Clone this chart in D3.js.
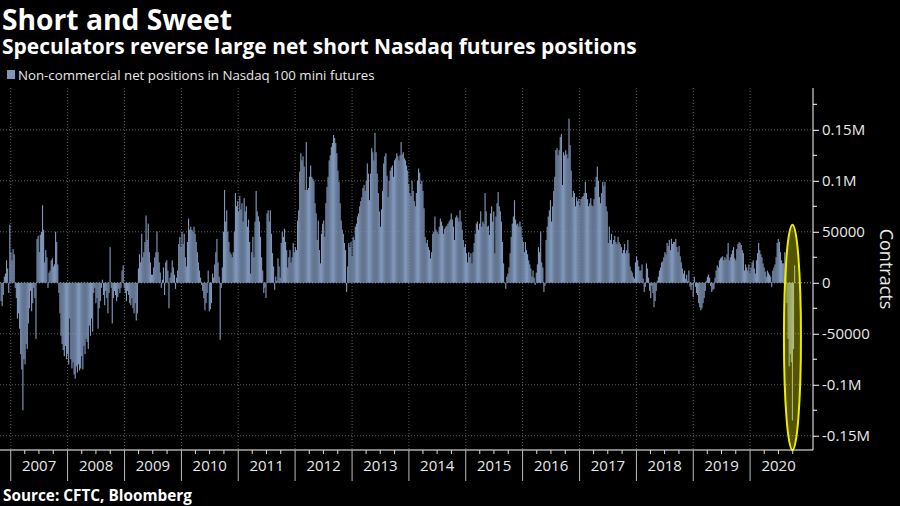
<!DOCTYPE html>
<html><head><meta charset="utf-8">
<script src="https://cdn.jsdelivr.net/npm/d3@7"></script>
<style>
html,body{margin:0;padding:0;background:#000;}
svg{display:block;}
</style></head><body>
<svg id="chart" width="900" height="506"></svg>
<script>
// ---------- text ----------
const title = "Short and Sweet";
const subtitle = "Speculators reverse large net short Nasdaq futures positions";
const legendLabel = "Non-commercial net positions in Nasdaq 100 mini futures";
const sourceText = "Source: CFTC, Bloomberg";
const axisTitle = "Contracts";

// ---------- data: weekly net positions, thousands of contracts ----------
const firstWeek = "2006-10-31";
const net2006 = [-18,-23,-12,6,9,22,14,-10,57];
const net2007 = [30,22,33,28,-5,-15,-35,-30,-45,-70,-85,-125,-75,-80,-60,-65,-40,-25,-8,-28,-20,-5,-15,-55,43,46,30,47,50,76,52,20,32,25,-5,10,12,22,24,16,18,50,40,18,-10,-30,-52,-60,-66,-72,-62,-75];
const net2008 = [-70,-80,-35,-75,-84,-78,-90,-94,-82,-88,-80,-86,-84,-72,-85,-62,-70,-55,-58,-65,-42,-52,-35,-48,-10,-5,-20,-15,-45,-25,-18,-5,3,-12,-22,-8,-15,-30,-10,35,-5,-40,-15,-8,-12,-18,-14,-6,-10,-5,12,17];
const net2009 = [-5,-10,-18,-8,-12,-20,-22,-15,-25,-30,-20,-37,-30,14,28,20,48,25,30,40,66,42,58,30,20,8,8,15,25,30,50,30,20,10,-5,3,15,-12,20,22,12,-25,5,10,22,15,8,-6,5,12,38,45,35];
const net2010 = [50,38,48,25,16,40,63,52,55,52,50,55,48,40,30,20,12,5,-2,-8,-15,-27,-20,-10,12,-28,-26,-20,9,5,18,30,43,20,6,-56,-5,15,50,91,60,71,50,40,30,28,25,30,50,88,75,80,70];
const net2011 = [85,72,78,60,83,70,75,55,62,40,9,30,45,25,60,90,70,65,60,45,25,12,-10,-5,-15,68,71,60,71,48,29,16,-7,6,2,24,16,5,39,50,45,53,40,32,15,25,32,20,25,39,30,35];
const net2012 = [32,61,71,109,127,120,124,114,91,138,91,93,104,115,104,102,100,78,68,42,61,32,19,48,58,61,45,78,94,104,120,125,133,137,145,142,137,127,110,99,78,61,52,48,39,32,-9,16,39,35,40,26,45];
const net2013 = [42,55,58,65,68,75,80,84,93,96,90,100,117,107,81,107,132,128,120,147,128,107,88,70,55,72,90,117,124,127,105,84,100,110,113,115,104,120,122,127,124,120,125,138,126,128,122,120,115,110,97,88,85];
const net2014 = [100,90,80,75,88,100,112,108,97,100,90,73,45,39,42,35,32,24,30,48,50,65,52,50,48,55,63,60,56,48,53,55,56,58,60,62,68,62,55,42,64,66,64,60,71,60,52,42,35,38,29,20,30];
const net2015 = [25,29,19,30,39,48,58,60,52,58,70,55,60,58,88,70,55,56,47,68,75,60,70,29,65,78,89,75,70,60,40,19,0,-6,6,9,15,29,45,58,65,81,62,57,58,55,60,55,45,40,30,40];
const net2016 = [32,28,22,18,14,6,12,5,-2,10,18,35,30,50,20,15,-9,-3,42,55,65,71,81,60,75,90,104,130,132,125,130,143,146,96,128,125,130,126,122,161,135,110,84,90,88,75,84,80,82,75,82,84,85];
const net2017 = [88,99,88,82,75,78,83,76,75,82,94,104,114,100,84,78,88,99,95,99,75,70,39,55,42,48,38,42,46,40,38,45,40,38,35,29,32,38,29,32,42,29,16,12,10,6,4,20,26,22,16,12];
const net2018 = [12,18,4,-9,-4,19,14,5,-8,-15,-3,-10,-24,-18,-8,2,6,12,15,20,21,25,30,28,39,36,42,32,43,38,40,40,43,35,30,36,26,20,14,9,12,4,8,2,12,-4,-7,-2,-14,6,-4,-10,-12];
const net2019 = [-20,-24,-27,-25,-20,-15,-8,2,6,8,5,-3,-9,-7,-6,5,12,17,15,22,24,25,26,22,25,23,28,39,22,25,28,32,35,24,22,33,38,40,39,37,32,29,12,18,15,12,18,10,15,20,22,14];
const net2020 = [9,22,29,39,32,28,25,19,15,11,6,12,10,8,6,-4,12,15,18,25,39,43,40,30,22,19,19,30,18,-20,-55,-82,-70,-78,-135,-65,17];

const yearLabels = ["2007","2008","2009","2010","2011","2012","2013","2014","2015","2016","2017","2018","2019","2020"];
const yTickValues = [-150000,-100000,-50000,0,50000,100000,150000];
const yTickLabels = ["-0.15M","-0.1M","-50000","0","50000","0.1M","0.15M"];
const yMinorValues = [-125000,-75000,-25000,25000,75000,125000,175000];
// highlighted region (annotation ellipse), contracts
const highlightTop = 57000, highlightBottom = -164000;

// ---------- build ----------
const parse = d3.timeParse("%Y-%m-%d");
const start = parse(firstWeek);
const values = [].concat(net2006,net2007,net2008,net2009,net2010,net2011,net2012,net2013,net2014,net2015,net2016,net2017,net2018,net2019,net2020);
const data = values.map((v,i)=>({date: d3.timeDay.offset(start, 7*i), value: v*1000}));

const svg = d3.select("#chart");
const W = 900, H = 506;
const P = {left:0, right:813, top:88, bottom:450};
const barColor = "#7f96b9";
const textColor = "#e8e8e8";
const font = "'Open Sans', 'DejaVu Sans', sans-serif";

svg.append("rect").attr("width",W).attr("height",H).attr("fill","#000");

const x = d3.scaleTime().domain([new Date(2006,9,24), new Date(2021,1,8)]).range([P.left, P.right]);
const y = d3.scaleLinear().domain([-164000, 191000]).range([P.bottom, P.top]);

function fit(sel, target){
  const n = sel.node(); const fs = parseFloat(sel.attr("font-size"));
  const w = n.getComputedTextLength(); sel.attr("font-size", fs*target/w);
}

// titles
fit(svg.append("text").attr("x",2).attr("y",30).attr("fill","#fff").attr("font-family",font)
  .attr("font-weight",700).attr("font-size",28).text(title), 230);
fit(svg.append("text").attr("x",2).attr("y",53.5).attr("fill","#fff").attr("font-family",font)
  .attr("font-weight",700).attr("font-size",19).text(subtitle), 635);
// legend
svg.append("rect").attr("x",7).attr("y",70).attr("width",8).attr("height",9).attr("fill",barColor);
fit(svg.append("text").attr("x",18).attr("y",79.5).attr("fill",textColor).attr("font-family",font)
  .attr("font-size",13).text(legendLabel), 357);

// grid
const grid = svg.append("g");
const yearStarts = yearLabels.map(s=>new Date(+s,0,1));
grid.selectAll("line.h").data(yTickValues.filter(v=>v!==0)).join("line")
  .attr("x1",P.left).attr("x2",P.right).attr("y1",d=>y(d)).attr("y2",d=>y(d))
  .attr("stroke","#5c5c5c").attr("stroke-dasharray","1,2");
grid.selectAll("line.v").data(yearStarts).join("line")
  .attr("x1",d=>x(d)).attr("x2",d=>x(d)).attr("y1",P.top).attr("y2",P.bottom)
  .attr("stroke","#5c5c5c").attr("stroke-dasharray","1,2");

// bars
const bw = 1.15;
svg.append("g").selectAll("rect").data(data).join("rect")
  .attr("x",d=>x(d.date)-bw/2).attr("width",bw)
  .attr("y",d=>y(Math.max(0,d.value))).attr("height",d=>Math.abs(y(d.value)-y(0)))
  .attr("fill",barColor);

// zero line on top
svg.append("line").attr("x1",P.left).attr("x2",P.right).attr("y1",y(0)).attr("y2",y(0))
  .attr("stroke","#9a9a9a").attr("stroke-dasharray","1,2");

// annotation ellipse around the latest plunge
const minD = data.reduce((a,b)=>b.value<a.value?b:a);
svg.append("ellipse").attr("cx",x(minD.date)).attr("cy",(y(highlightTop)+y(highlightBottom))/2)
  .attr("rx",8.5).attr("ry",(y(highlightBottom)-y(highlightTop))/2)
  .attr("fill","rgba(255,255,0,0.33)").attr("stroke","#eded00").attr("stroke-width",2);

// x axis
svg.append("line").attr("x1",P.left).attr("x2",P.right).attr("y1",P.bottom).attr("y2",P.bottom)
  .attr("stroke","#fff").attr("stroke-width",1);
const quarters = d3.timeMonth.every(3).range(new Date(2006,9,1), new Date(2021,0,2)).filter(d=>d.getMonth()!==0 && x(d)>=0);
svg.append("g").selectAll("line").data(quarters).join("line")
  .attr("x1",d=>x(d)).attr("x2",d=>x(d)).attr("y1",P.bottom).attr("y2",P.bottom+4).attr("stroke","#ddd");
svg.append("g").selectAll("line").data(yearStarts).join("line")
  .attr("x1",d=>x(d)).attr("x2",d=>x(d)).attr("y1",P.bottom).attr("y2",P.bottom+31).attr("stroke","#bbb");
svg.append("g").selectAll("text").data(yearLabels).join("text")
  .attr("x",d=>x(new Date(+d,6,2))).attr("y",P.bottom+21).attr("text-anchor","middle")
  .attr("fill",textColor).attr("font-family",font).attr("font-size",15).text(d=>d);

// y axis (right)
const yAxis = d3.axisRight(y).tickValues(yTickValues).tickSize(6).tickPadding(3)
  .tickFormat((d,i)=>yTickLabels[i]);
const ga = svg.append("g").attr("transform",`translate(${P.right},0)`).call(yAxis);
ga.select(".domain").remove();
ga.selectAll("line").attr("stroke","#fff");
ga.selectAll("text").attr("fill",textColor).attr("font-family",font).attr("font-size",15);
svg.append("line").attr("x1",P.right).attr("x2",P.right).attr("y1",P.top).attr("y2",P.bottom).attr("stroke","#fff");
svg.append("g").selectAll("line").data(yMinorValues).join("line")
  .attr("x1",P.right).attr("x2",P.right+4).attr("y1",d=>y(d)).attr("y2",d=>y(d)).attr("stroke","#fff");
svg.append("text").attr("transform",`translate(887,${(P.top+P.bottom)/2}) rotate(90)`)
  .attr("text-anchor","middle").attr("dominant-baseline","central").attr("fill",textColor)
  .attr("font-family",font).attr("font-size",18).text(axisTitle);

// source
fit(svg.append("text").attr("x",3).attr("y",501).attr("fill","#fff").attr("font-family",font)
  .attr("font-weight",700).attr("font-size",13).text(sourceText), 189);
</script>
</body></html>
